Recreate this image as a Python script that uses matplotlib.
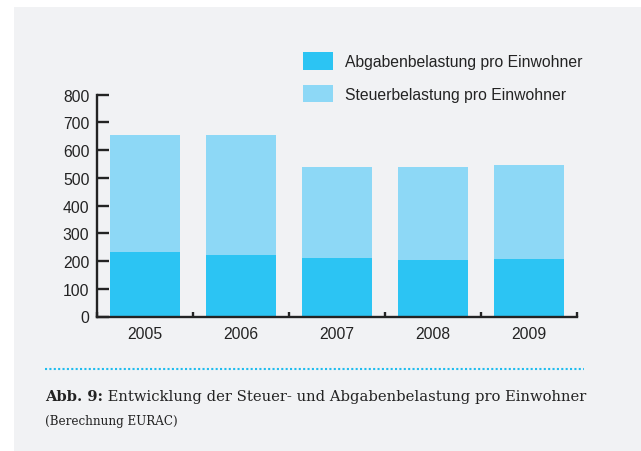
import matplotlib
matplotlib.use("Agg")
import matplotlib.pyplot as plt
import matplotlib.patches as patches
from matplotlib.lines import Line2D
import numpy as np

# data
years = ["2005", "2006", "2007", "2008", "2009"]
abgaben = [232, 221, 210, 203, 207]        # Abgabenbelastung pro Einwohner
steuer_total = [653, 653, 538, 538, 545]   # top of stacked bar
steuer = [t - a for t, a in zip(steuer_total, abgaben)]
y_ticks = [0, 100, 200, 300, 400, 500, 600, 700, 800]
labels = ["Abgabenbelastung pro Einwohner", "Steuerbelastung pro Einwohner"]
caption_bold = "Abb. 9:"
caption_text = " Entwicklung der Steuer- und Abgabenbelastung pro Einwohner"
caption_sub = "(Berechnung EURAC)"

DARK = "#2cc4f3"
LIGHT = "#8dd8f6"
BG = "#f1f2f4"
INK = "#232323"
W, H = 641, 452

plt.rcParams["font.family"] = ["Liberation Sans", "DejaVu Sans"]

fig = plt.figure(figsize=(W / 100, H / 100), dpi=100)
fig.patch.set_facecolor("white")
# grey panel behind everything
fig.add_artist(patches.Rectangle((14 / W, 0), 1 - 14 / W, 1 - 8 / H,
                                 transform=fig.transFigure, facecolor=BG,
                                 edgecolor="none", zorder=-10))

ax = fig.add_axes([97 / W, 1 - 317.5 / H, 480 / W, (317.5 - 95.7) / H])
ax.set_facecolor("none")

x = np.arange(len(years))
b1 = ax.bar(x, abgaben, width=0.73, color=DARK, label=labels[0], zorder=2)
b2 = ax.bar(x, steuer, bottom=abgaben, width=0.73, color=LIGHT,
            label=labels[1], zorder=2)

ax.set_xlim(-0.5, len(years) - 0.5)
ax.set_ylim(0, 800)
for s in ["top", "right"]:
    ax.spines[s].set_visible(False)
for s in ["left", "bottom"]:
    ax.spines[s].set_linewidth(1.7)
    ax.spines[s].set_color(INK)
    ax.spines[s].set_capstyle("projecting")

ax.set_yticks(y_ticks)
ax.tick_params(axis="y", direction="in", length=8.5, width=1.7, color=INK,
               labelsize=11.3, labelcolor=INK, pad=5.5)
ax.set_xticks(x)
ax.set_xticklabels(years)
ax.tick_params(axis="x", which="major", length=0, labelsize=11.3,
               labelcolor=INK, pad=7)
ax.set_xticks(np.arange(len(years) + 1) - 0.5, minor=True)
ax.tick_params(axis="x", which="minor", direction="in", length=3.5,
               width=1.7, color=INK)

fs = 11.3
px = fs * 100 / 72
fig.legend(handles=[b1, b2], labels=labels, loc="upper left",
           bbox_to_anchor=(303 / W, 1 - 53.3 / H), frameon=False,
           fontsize=fs, handlelength=30 / px, handleheight=21 / px,
           handletextpad=12 / px, labelspacing=15 / px, borderpad=0,
           borderaxespad=0, labelcolor=INK)

# dotted separator
fig.add_artist(Line2D([45 / W, 584 / W], [1 - 370 / H, 1 - 370 / H],
                      transform=fig.transFigure, color="#1fbdef", lw=1.5,
                      linestyle=(0, (1, 1.1)), dash_capstyle="butt"))

# caption
serif = ["DejaVu Serif"]
t1 = fig.text(45 / W, 1 - 401.5 / H, caption_bold, fontsize=10.6,
              fontweight="bold", family=serif, color=INK, va="baseline")
fig.canvas.draw()
bb = t1.get_window_extent()
fig.text(bb.x1 / W, 1 - 401.5 / H, caption_text, fontsize=10.6,
         family=serif, color=INK, va="baseline")
fig.text(45 / W, 1 - 425 / H, caption_sub, fontsize=8.6, family=serif,
         color=INK, va="baseline")

fig.savefig("out.png", dpi=100, facecolor=fig.get_facecolor())
